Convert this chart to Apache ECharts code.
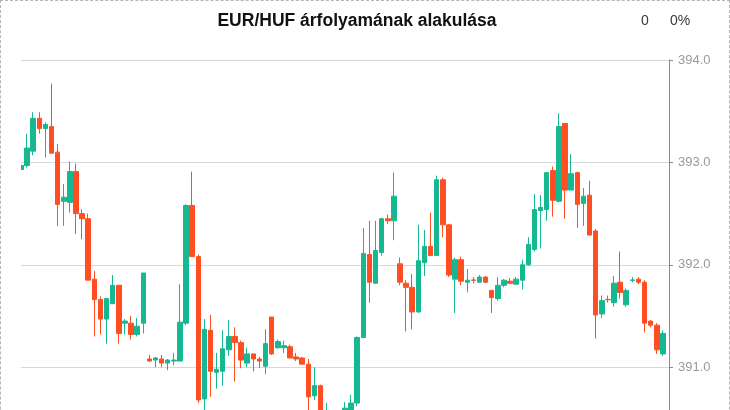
<!DOCTYPE html>
<html>
<head>
<meta charset="utf-8">
<script src="https://cdn.jsdelivr.net/npm/echarts@6/dist/echarts.min.js"></script>
<style>
html,body{margin:0;padding:0;overflow:hidden;background:#fff;}
#wrap{position:relative;width:730px;height:520px;}
#chart{position:absolute;left:0;top:0;width:730px;height:520px;}
#frame{position:absolute;left:0;top:0;width:730px;height:520px;box-sizing:border-box;border:1px dashed #b5b5b5;pointer-events:none;}
</style>
</head>
<body>
<div id="wrap"><div id="chart"></div><div id="frame"></div></div>
<script>
const titleText = 'EUR/HUF árfolyamának alakulása';
const changeText = '0';
const changePctText = '0%';
const categories = ['1','2','3','4','5','6','7','8','9','10','11','12','13','14','15','16','17','18','19','20','21','22','23','24','25','26','27','28','29','30','31','32','33','34','35','36','37','38','39','40','41','42','43','44','45','46','47','48','49','50','51','52','53','54','55','56','57','58','59','60','61','62','63','64','65','66','67','68','69','70','71','72','73','74','75','76','77','78','79','80','81','82','83','84','85','86','87','88','89','90','91','92','93','94','95','96','97','98','99','100','101','102','103','104','105','106',''];
const opens = [392.93,392.97,393.11,393.43,393.33,393.35,393.10,392.62,392.61,392.91,392.50,392.45,391.86,391.66,391.47,391.62,391.80,391.43,391.43,391.32,391.43,391.08,391.07,391.08,391.04,391.06,391.06,391.43,392.58,392.08,390.69,391.36,390.95,390.96,391.17,391.30,391.24,391.04,391.13,391.08,391.01,391.49,391.19,391.19,391.20,391.10,391.09,391.03,390.72,390.82,390.40,390.52,390.38,390.45,390.57,390.65,391.29,392.10,391.82,392.12,392.45,392.43,392.01,391.82,391.78,391.54,392.02,392.18,392.09,392.83,392.39,391.86,392.05,391.83,391.852,391.83,391.88,391.75,391.67,391.80,391.84,391.81,391.85,392.00,392.15,392.53,392.54,392.92,392.62,393.38,392.73,392.90,392.60,392.68,392.33,391.52,391.662,391.63,391.83,391.61,391.848,391.86,391.83,391.45,391.41,391.13];
const closes = [392.97,393.14,393.43,393.33,393.37,393.09,392.59,392.66,392.91,392.50,392.45,391.85,391.66,391.47,391.67,391.80,391.33,391.45,391.32,391.40,391.92,391.06,391.09,391.04,391.07,391.07,391.44,392.58,392.08,390.68,391.37,390.96,390.98,391.18,391.30,391.24,391.07,391.13,391.08,391.06,391.23,391.13,391.25,391.21,391.09,391.08,391.03,390.71,390.82,390.40,390.52,390.38,390.48,390.60,390.65,391.29,392.11,391.83,392.14,392.45,392.43,392.67,391.83,391.78,391.54,392.04,392.18,392.09,392.83,392.39,391.90,392.05,391.84,391.85,391.848,391.88,391.83,391.68,391.80,391.85,391.82,391.86,392.00,392.20,392.54,392.56,392.90,392.63,393.35,392.73,392.89,392.59,392.67,392.29,391.51,391.65,391.658,391.82,391.73,391.75,391.852,391.83,391.43,391.41,391.17,391.33];
const lows = [392.88,392.95,393.07,393.28,393.05,393.09,392.38,392.38,392.51,392.30,392.25,391.85,391.30,391.32,391.23,391.62,391.23,391.32,391.27,391.30,391.33,391.05,391.00,391.00,390.97,391.02,391.06,391.41,392.08,390.65,390.55,390.71,390.79,390.82,391.11,390.86,390.99,391.00,390.96,390.99,390.93,391.12,391.18,391.14,391.09,391.06,391.03,390.50,390.68,390.30,390.35,390.30,390.32,390.40,390.52,390.62,391.29,391.63,391.82,392.09,392.40,392.24,391.80,391.35,391.37,391.53,391.89,392.09,392.09,392.27,391.88,391.53,391.80,391.73,391.82,391.83,391.82,391.53,391.65,391.78,391.81,391.81,391.76,391.99,392.13,392.16,392.43,392.47,392.61,392.45,392.73,392.36,392.38,392.29,391.28,391.48,391.63,391.59,391.67,391.59,391.83,391.81,391.34,391.39,391.13,391.11];
const highs = [393.01,393.28,393.49,393.49,393.39,393.77,393.18,392.79,393.01,392.99,392.54,392.50,391.94,391.69,391.67,391.90,391.80,391.47,391.50,391.48,391.92,391.12,391.10,391.12,391.08,391.14,391.81,392.59,392.91,392.10,391.47,391.51,391.14,391.36,391.46,391.39,391.26,391.19,391.13,391.10,391.37,391.49,391.27,391.26,391.22,391.14,391.10,391.08,391.00,390.83,390.65,390.56,390.55,390.66,390.73,391.30,392.36,392.43,392.43,392.46,392.49,392.90,392.07,391.85,391.91,392.39,392.34,392.51,392.87,392.85,392.40,392.07,392.08,391.96,391.88,391.90,391.89,391.75,391.88,391.86,391.87,391.88,392.05,392.27,392.69,392.68,392.90,392.96,393.48,393.38,393.08,392.91,392.75,392.82,392.35,391.70,391.70,391.89,392.13,391.77,391.88,391.88,391.85,391.46,391.43,391.36];
const yMin = 390, yMax = 394, yStep = 1;

const candleData = opens.map((o, i) => [o, closes[i], lows[i], highs[i]]);
candleData.push('-');

const chart = echarts.init(document.getElementById('chart'), null, {renderer: 'canvas'});
chart.setOption({
  animation: false,
  backgroundColor: '#fff',
  graphic: [
    {type: 'text', x: 357, y: 21, z: 10, style: {text: titleText, font: 'bold 17.5px "Liberation Sans", Arial, sans-serif', fill: '#111', textAlign: 'center', textVerticalAlign: 'middle'}},
    {type: 'text', x: 645, y: 21, z: 10, style: {text: changeText, font: '14px "Liberation Sans", Arial, sans-serif', fill: '#3a3a3a', textAlign: 'center', textVerticalAlign: 'middle'}},
    {type: 'text', x: 670, y: 21, z: 10, style: {text: changePctText, font: '14px "Liberation Sans", Arial, sans-serif', fill: '#3a3a3a', textAlign: 'left', textVerticalAlign: 'middle'}},
    {type: 'rect', x: 0, y: 55, z: 100, shape: {x: 0, y: 0, width: 21, height: 470}, style: {fill: '#fff'}}
  ],
  grid: {left: 21, right: 61, top: 60, height: 409.6},
  xAxis: {
    type: 'category', data: categories, boundaryGap: false,
    axisLine: {show: false}, axisTick: {show: false}, axisLabel: {show: false}, splitLine: {show: false}
  },
  yAxis: {
    type: 'value', position: 'right', min: yMin, max: yMax, interval: yStep, scale: true,
    axisLine: {show: true, lineStyle: {color: '#8a8a8a', width: 1}},
    axisTick: {show: true, length: 4, lineStyle: {color: '#8a8a8a'}},
    axisLabel: {margin: 9, color: '#9a9a9a', fontSize: 13, fontFamily: '"Liberation Sans", Arial, sans-serif', formatter: v => v.toFixed(1)},
    splitLine: {show: true, lineStyle: {color: '#d6dadf', width: 1}}
  },
  series: [{
    type: 'candlestick', data: candleData, barWidth: 5, clip: true,
    itemStyle: {color: '#16b891', color0: '#ff4f22', borderColor: '#16b891', borderColor0: '#ff4f22', borderWidth: 1}
  }]
});
</script>
</body>
</html>
